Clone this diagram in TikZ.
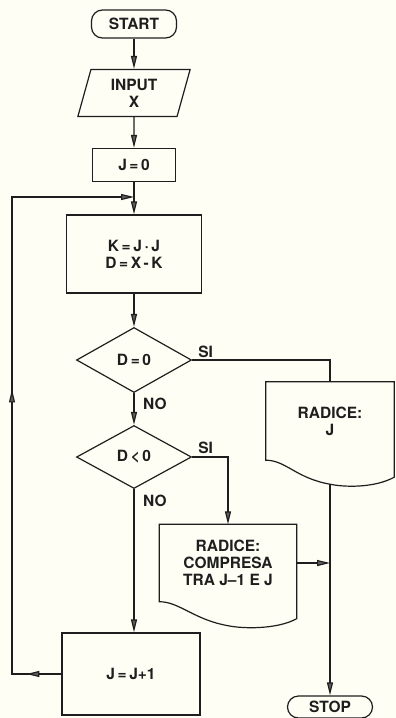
\documentclass[tikz,border=0pt]{standalone}
\usepackage{fontspec}
\setmainfont{TeX Gyre Heros}
\usepackage{xcolor}
\usetikzlibrary{calc,arrows.meta,positioning,shapes.geometric,decorations.markings}
\definecolor{fcPaper}{RGB}{255,254,244}
\definecolor{fcInk}{RGB}{30,30,30}
\definecolor{fcTip}{RGB}{95,95,95}

\tikzset{
  >={Triangle[length=13pt,width=6pt,fill=fcTip]},
  flowtxt/.style={font=\fontsize{15.5}{17}\selectfont\bfseries, text=fcInk, align=center},
  flow/.style={draw=fcInk, line width=1.2pt},
  terminal/.style={flowtxt, flow, rectangle, rounded corners=11pt, minimum width=85pt, inner sep=0pt},
  iobox/.style={flowtxt, flow, trapezium, trapezium left angle=76, trapezium right angle=104,
    trapezium stretches=true, minimum width=113pt, minimum height=47pt, inner sep=0pt},
  procbox/.style={flowtxt, flow, rectangle, inner sep=0pt},
  decision/.style={flowtxt, flow, diamond, aspect=1.8, minimum width=115pt, minimum height=65pt, inner sep=0pt},
  docbox/.style={flowtxt, rectangle, inner sep=0pt},
  lbl/.style={flowtxt, inner sep=0pt},
  midarrows/.style={postaction={decorate}, decoration={markings,
    mark=at position 0.054 with {\arrow{>}},
    mark=at position 0.515 with {\arrow{>}}}}
}

% outline of a printed document with a wavy lower edge
\newcommand{\docoutline}[1]{%
  \draw[flow] (#1.south west) -- (#1.north west) -- (#1.north east) -- ($(#1.south east)+(0,17)$)
    .. controls ($(#1.south east)+(-20,28)$) and ($(#1.south)+(14,27)$) .. ($(#1.south)+(0,24)$)
    .. controls ($(#1.south)+(-34,18)$) and ($(#1.south west)+(20,0)$) .. cycle;}

\begin{document}
\begin{tikzpicture}[x=1pt,y=-1pt]

    % paper
    \fill[fcPaper] (0,0) rectangle (396,718);
    \useasboundingbox (0,0) rectangle (396,718);

    % main column
    \node[terminal, minimum height=28pt] (start) at (134,24) {START};
    \node[iobox] (input) at (134,93) {INPUT\\X};
    \node[procbox, minimum width=83pt, minimum height=33pt] (jzero) at (134,165) {J\,=\,0};
    \node[procbox, minimum width=135pt, minimum height=78pt] (kd) at (134,254) {K\,=\,J\,·\,J\\D\,=\,X\,-\,K};
    \node[decision] (dzero) at (134,360) {D\,=\,0};
    \node[decision, minimum height=63pt] (dneg) at (134,457) {D\,<\,0};
    \node[procbox, minimum width=138pt, minimum height=82pt] (jinc) at (131,674) {J\,=\,J+1};

    % right branch
    \node[docbox, minimum width=128pt, minimum height=78pt] (outj) at (330,421) {RADICE:\\J};
    \node[docbox, minimum width=137pt, minimum height=77pt] (outint) at (228,563) {RADICE:\\COMPRESA\\TRA J–1 E J};
    \node[terminal, minimum height=22pt] (stop) at (330,707) {STOP};
    \docoutline{outj}
    \docoutline{outint}

    % branch labels
    \node[lbl, above right=2pt and 6pt of dzero.east] (sizero) {SI};
    \node[lbl, below right=5pt and 9pt of dzero.south] (nozero) {NO};
    \node[lbl, above right=3pt and 6pt of dneg.east] (sineg) {SI};
    \node[lbl, below right=6pt and 9pt of dneg.south] (noneg) {NO};

    % connectors
    \coordinate (merge) at (134,197);
    \coordinate (loopx) at (12,197);
    \draw[flow, ->] (start) -- (input);
    \draw[flow, ->] (input) -- (jzero);
    \draw[flow, ->] (jzero) -- (kd);
    \draw[flow, ->] (kd) -- (dzero);
    \draw[flow, ->] (dzero) -- (dneg);
    \draw[flow, ->] (dneg.south) -- (dneg.south |- jinc.north);
    \draw[flow] (dzero.east) -| (outj.north);
    \draw[flow, ->] (dneg.east) -| (outint.north);
    \draw[flow, ->] (outint.east) -- (outint.east -| stop.north);
    \draw[flow, ->] ($(outj.south)+(0,24)$) -- (stop.north);

    % loop back
    \draw[flow, midarrows, ->] (jinc.west) -- (jinc.west -| loopx) -- (loopx) -- (merge);

\end{tikzpicture}
\end{document}
